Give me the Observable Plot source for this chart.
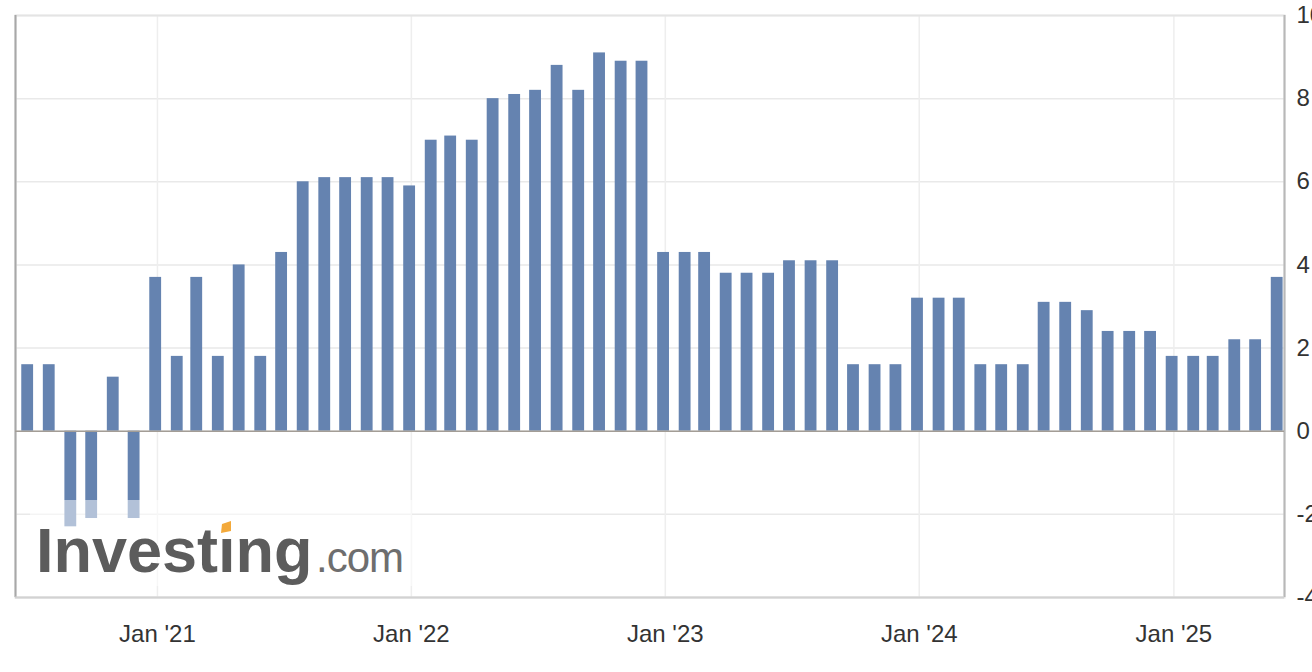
<!DOCTYPE html>
<html>
<head>
<meta charset="utf-8">
<script src="https://cdn.jsdelivr.net/npm/d3@7"></script>
<script src="https://cdn.jsdelivr.net/npm/@observablehq/plot@0.6"></script>
<style>
  html, body { margin: 0; padding: 0; background: #fff; }
  #wrap { position: relative; width: 1312px; height: 672px; overflow: hidden; }
  #wrap svg { display: block; }
  #wm { position: absolute; left: 0; top: 0; pointer-events: none; }
</style>
</head>
<body>
<div id="wrap"></div>
<script>
// ---- data ----
const firstMonth = "2020-07-01";
const values = [
  1.6, 1.6, -2.3, -2.1, 1.3, -2.1,
  3.7, 1.8, 3.7, 1.8, 4.0, 1.8,
  4.3, 6.0, 6.1, 6.1, 6.1, 6.1,
  5.9, 7.0, 7.1, 7.0, 8.0, 8.1,
  8.2, 8.8, 8.2, 9.1, 8.9, 8.9,
  4.3, 4.3, 4.3, 3.8, 3.8, 3.8,
  4.1, 4.1, 4.1, 1.6, 1.6, 1.6,
  3.2, 3.2, 3.2, 1.6, 1.6, 1.6,
  3.1, 3.1, 2.9, 2.4, 2.4, 2.4,
  1.8, 1.8, 1.8, 2.2, 2.2, 3.7
];
const xTickDates = ["2021-01-01", "2022-01-01", "2023-01-01", "2024-01-01", "2025-01-01"];
const yTicks = [-4, -2, 0, 2, 4, 6, 8, 10];
const xDomain = ["2020-06-11", "2025-06-09"];
const yDomain = [-4, 10];

// ---- build table ----
const start = new Date(firstMonth);
const months = d3.utcMonth.range(start, d3.utcMonth.offset(start, values.length));
const data = months.map((d, i) => ({
  date: d,
  x1: d3.utcDay.offset(d, -11),
  x2: d3.utcDay.offset(d, 6),
  value: values[i]
}));
const xd = xDomain.map(s => new Date(s));
const xt = xTickDates.map(s => new Date(s));
const fmt = d => "Jan '" + d3.utcFormat("%y")(d);

const barColor = "#6583b0";
const labelFont = "'Liberation Sans', Arial, sans-serif";

const chart = Plot.plot({
  width: 1312,
  height: 672,
  marginLeft: 15,
  marginRight: 28,
  marginTop: 15,
  marginBottom: 75,
  style: { fontFamily: labelFont, fontSize: "24px", color: "#333", background: "#fff" },
  x: { type: "utc", domain: xd, label: null },
  y: { domain: yDomain, label: null },
  marks: [
    Plot.gridY(yTicks, { stroke: "#e9e9e9", strokeOpacity: 1, strokeWidth: 1.5 }),
    Plot.gridX(xt, { stroke: "#eeeeee", strokeOpacity: 1, strokeWidth: 1.5 }),
    Plot.frame({ stroke: "#e4e4e4", strokeWidth: 2 }),
    Plot.ruleX([xd[0]], { stroke: "#a8a8a8", strokeWidth: 2 }),
    Plot.ruleX([xd[1]], { stroke: "#b8b8b8", strokeWidth: 2 }),
    Plot.ruleY([yDomain[0]], { stroke: "#d2d2d2", strokeWidth: 2 }),
    Plot.rectY(data, { x1: "x1", x2: "x2", y1: 0, y2: "value", fill: barColor }),
    Plot.ruleY([0], { stroke: "#a39d96", strokeWidth: 1.5 }),
    Plot.axisY(yTicks, { anchor: "right", label: null, tickSize: 0, tickPadding: 12, tickFormat: d => String(d), fill: "#333", textAnchor: "start" }),
    Plot.axisX(xt, { anchor: "bottom", label: null, tickSize: 0, tickPadding: 27, tickFormat: fmt, fill: "#333" })
  ]
});
document.getElementById("wrap").appendChild(chart);

// ---- watermark overlay ----
const ns = "http://www.w3.org/2000/svg";
const wm = document.createElementNS(ns, "svg");
wm.setAttribute("id", "wm");
wm.setAttribute("width", 1312);
wm.setAttribute("height", 672);
wm.innerHTML = `
  <rect x="30" y="500" width="382" height="86" fill="#ffffff" fill-opacity="0.5"></rect>
  <text x="36" y="572" font-family="'Liberation Sans', Arial, sans-serif" font-weight="bold" font-size="63" fill="#5c5c5c">Investıng</text>
  <text x="316" y="572" font-family="'Liberation Sans', Arial, sans-serif" font-size="42" letter-spacing="-1" fill="#6e6e6e">.com</text>
  <polygon points="222,524 231,521 231,531 221,533" fill="#f3a93a"></polygon>
`;
document.getElementById("wrap").appendChild(wm);
</script>
</body>
</html>
